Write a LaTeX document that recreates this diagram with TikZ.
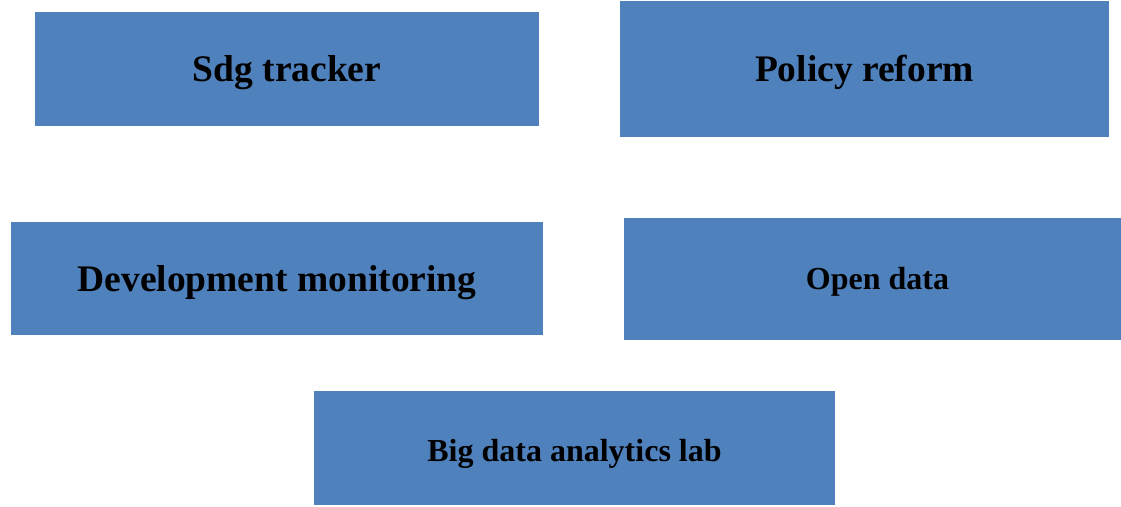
\documentclass[tikz,border=0pt]{standalone}
\usepackage{fontspec}
\setmainfont{Liberation Serif}
\definecolor{boxblue}{HTML}{4F81BD}
\newcommand\lowtext[2]{\raisebox{-#1}[0pt][0pt]{#2}}
\begin{document}
\begin{tikzpicture}[x=1pt,y=1pt,
  box/.style={fill=boxblue, draw=none, inner sep=0pt, align=center, font=\bfseries},
  big/.style={font=\fontsize{37.5}{42}\selectfont\bfseries},
  small/.style={font=\fontsize{32}{36}\selectfont\bfseries}]
\useasboundingbox (0,0) rectangle (1121,506);
\node[box, big, minimum width=504pt, minimum height=114pt] (sdg) at (287,437) {\lowtext{12.5pt}{Sdg tracker}};
\node[box, big, minimum width=489pt, minimum height=136pt] (policy) at (864.5,437) {\lowtext{12.5pt}{Policy reform}};
\node[box, big, minimum width=532pt, minimum height=113pt] (dev) at (277,227.5) {\lowtext{13pt}{Development monitoring}};
\node[box, small, minimum width=497pt, minimum height=122pt] (open) at (872.5,227) {\lowtext{11pt}{\hspace*{10pt}Open data}};
\node[box, small, minimum width=521pt, minimum height=114pt] (lab) at (574.5,58) {\lowtext{13.5pt}{Big data analytics lab}};
\end{tikzpicture}
\end{document}
